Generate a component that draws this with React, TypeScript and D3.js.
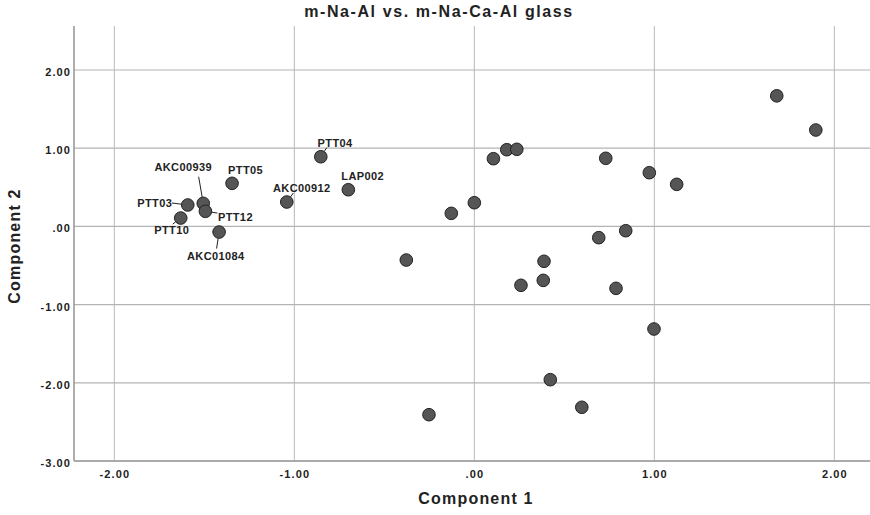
import React from "react";
import * as d3 from "d3";

const title = "m-Na-Al vs. m-Na-Ca-Al glass";
const xAxisTitle = "Component 1";
const yAxisTitle = "Component 2";

const xTickValues = [-2, -1, 0, 1, 2];
const yTickValues = [2, 1, 0, -1, -2, -3];

// Unlabeled samples
const plainX = [1.68, 1.897, 0.972, 1.124, 0.106, 0.18, 0.236, 0.73, 0.0, -0.128, -0.378, 0.691, 0.841, 0.387, 0.383, 0.259, 0.787, 0.998, 0.422, 0.597, -0.252];
const plainY = [1.67, 1.233, 0.687, 0.538, 0.866, 0.981, 0.986, 0.871, 0.303, 0.167, -0.43, -0.144, -0.055, -0.446, -0.69, -0.753, -0.792, -1.312, -1.96, -2.313, -2.408];

// Labeled samples
const labelNames = ["PTT05", "AKC00939", "PTT12", "PTT03", "PTT10", "AKC01084", "AKC00912", "LAP002", "PTT04"];
const labelX = [-1.346, -1.506, -1.494, -1.592, -1.631, -1.418, -1.042, -0.7, -0.853];
const labelY = [0.551, 0.295, 0.193, 0.274, 0.107, -0.072, 0.312, 0.469, 0.891];

// label placement (pixel offsets from the point): text centre, and leader end (null = none)
const labelLayout = [
  { dx: 13.5, dy: -13.5, leader: null },
  { dx: -20, dy: -36, leader: [-4.6, -26.6] },
  { dx: 30, dy: 5.5, leader: [12, 1.7] },
  { dx: -33, dy: -2.3, leader: [-16, -2] },
  { dx: -9, dy: 11.5, leader: [-8, 6] },
  { dx: -3.3, dy: 24, leader: [-2.5, 16.5] },
  { dx: 15, dy: -13.7, leader: [6.6, -9] },
  { dx: 14.4, dy: -13.8, leader: null },
  { dx: 14.3, dy: -14, leader: [6, -9.2] },
];

const W = 870;
const H = 515;
const FONT = "'Liberation Sans', Arial, Helvetica, sans-serif";

const fmt = (v: number) => {
  const s = d3.format(".2f")(v).replace("\u2212", "-");
  return s.replace(/^0\./, ".").replace(/^-0\./, "-.");
};

export default function App() {
  const x = d3.scaleLinear().domain([-2.224, 2.198]).range([74, 870]);
  const y = d3.scaleLinear().domain([-3, 2.563]).range([461, 26]);
  const [x0, x1] = x.range();
  const [y0, y1] = y.range();
  const r = 6.3;

  const plain = plainX.map((v, i) => ({ x: v, y: plainY[i] }));
  const labeled = labelNames.map((n, i) => ({ name: n, x: labelX[i], y: labelY[i], lay: labelLayout[i] }));

  return (
    <svg width={W} height={H} style={{ position: "absolute", left: 0, top: 0, background: "#fff" }}>
      <rect width={W} height={H} fill="#fff" />
      {/* grid */}
      {xTickValues.map((t) => (
        <line key={"gx" + t} x1={x(t)} x2={x(t)} y1={y1} y2={y0} stroke="#b9b9b9" strokeWidth={1} />
      ))}
      {yTickValues.map((t) => (
        <line key={"gy" + t} x1={x0} x2={x1} y1={y(t)} y2={y(t)} stroke="#b3b3b3" strokeWidth={1.2} />
      ))}
      {/* axes */}
      <line x1={x0} x2={x0} y1={y1} y2={y0} stroke="#9a9a9a" strokeWidth={1.6} />
      <line x1={x0} x2={x1} y1={y0} y2={y0} stroke="#9a9a9a" strokeWidth={1.6} />

      {/* tick labels */}
      {xTickValues.map((t) => (
        <text key={"tx" + t} x={x(t) + 0.5} y={y0 + 17} textAnchor="middle" fontFamily={FONT} fontWeight="bold" fontSize={11} letterSpacing={1.1} fill="#222">
          {fmt(t)}
        </text>
      ))}
      {yTickValues.map((t) => (
        <text key={"ty" + t} x={x0 - 3} y={y(t) + 6} textAnchor="end" fontFamily={FONT} fontWeight="bold" fontSize={11} letterSpacing={1.1} fill="#222">
          {fmt(t)}
        </text>
      ))}

      {/* titles */}
      <text x={439} y={17} textAnchor="middle" fontFamily={FONT} fontWeight="bold" fontSize={16} letterSpacing={1.6} fill="#222">
        {title}
      </text>
      <text x={476} y={504} textAnchor="middle" fontFamily={FONT} fontWeight="bold" fontSize={16} letterSpacing={1.2} fill="#222">
        {xAxisTitle}
      </text>
      <text transform={`translate(20,246) rotate(-90)`} textAnchor="middle" fontFamily={FONT} fontWeight="bold" fontSize={16} letterSpacing={1.2} fill="#222">
        {yAxisTitle}
      </text>

      {/* leaders */}
      {labeled.map((d) => {
        if (!d.lay.leader) return null;
        const px = x(d.x);
        const py = y(d.y);
        const [ex, ey] = d.lay.leader;
        const len = Math.hypot(ex, ey);
        const sx = px + (ex / len) * r;
        const sy = py + (ey / len) * r;
        return <line key={"ld" + d.name} x1={sx} y1={sy} x2={px + ex} y2={py + ey} stroke="#222" strokeWidth={1} />;
      })}

      {/* points */}
      {plain.map((d, i) => (
        <circle key={"p" + i} cx={x(d.x)} cy={y(d.y)} r={r} fill="#555" stroke="#222" strokeWidth={1} />
      ))}
      {labeled.map((d) => (
        <circle key={"lp" + d.name} cx={x(d.x)} cy={y(d.y)} r={r} fill="#555" stroke="#222" strokeWidth={1} />
      ))}

      {/* labels */}
      {labeled.map((d) => (
        <text key={"lt" + d.name} x={x(d.x) + d.lay.dx} y={y(d.y) + d.lay.dy + 4} textAnchor="middle" fontFamily={FONT} fontWeight="bold" fontSize={11} letterSpacing={0.4} fill="#222">
          {d.name}
        </text>
      ))}
    </svg>
  );
}
